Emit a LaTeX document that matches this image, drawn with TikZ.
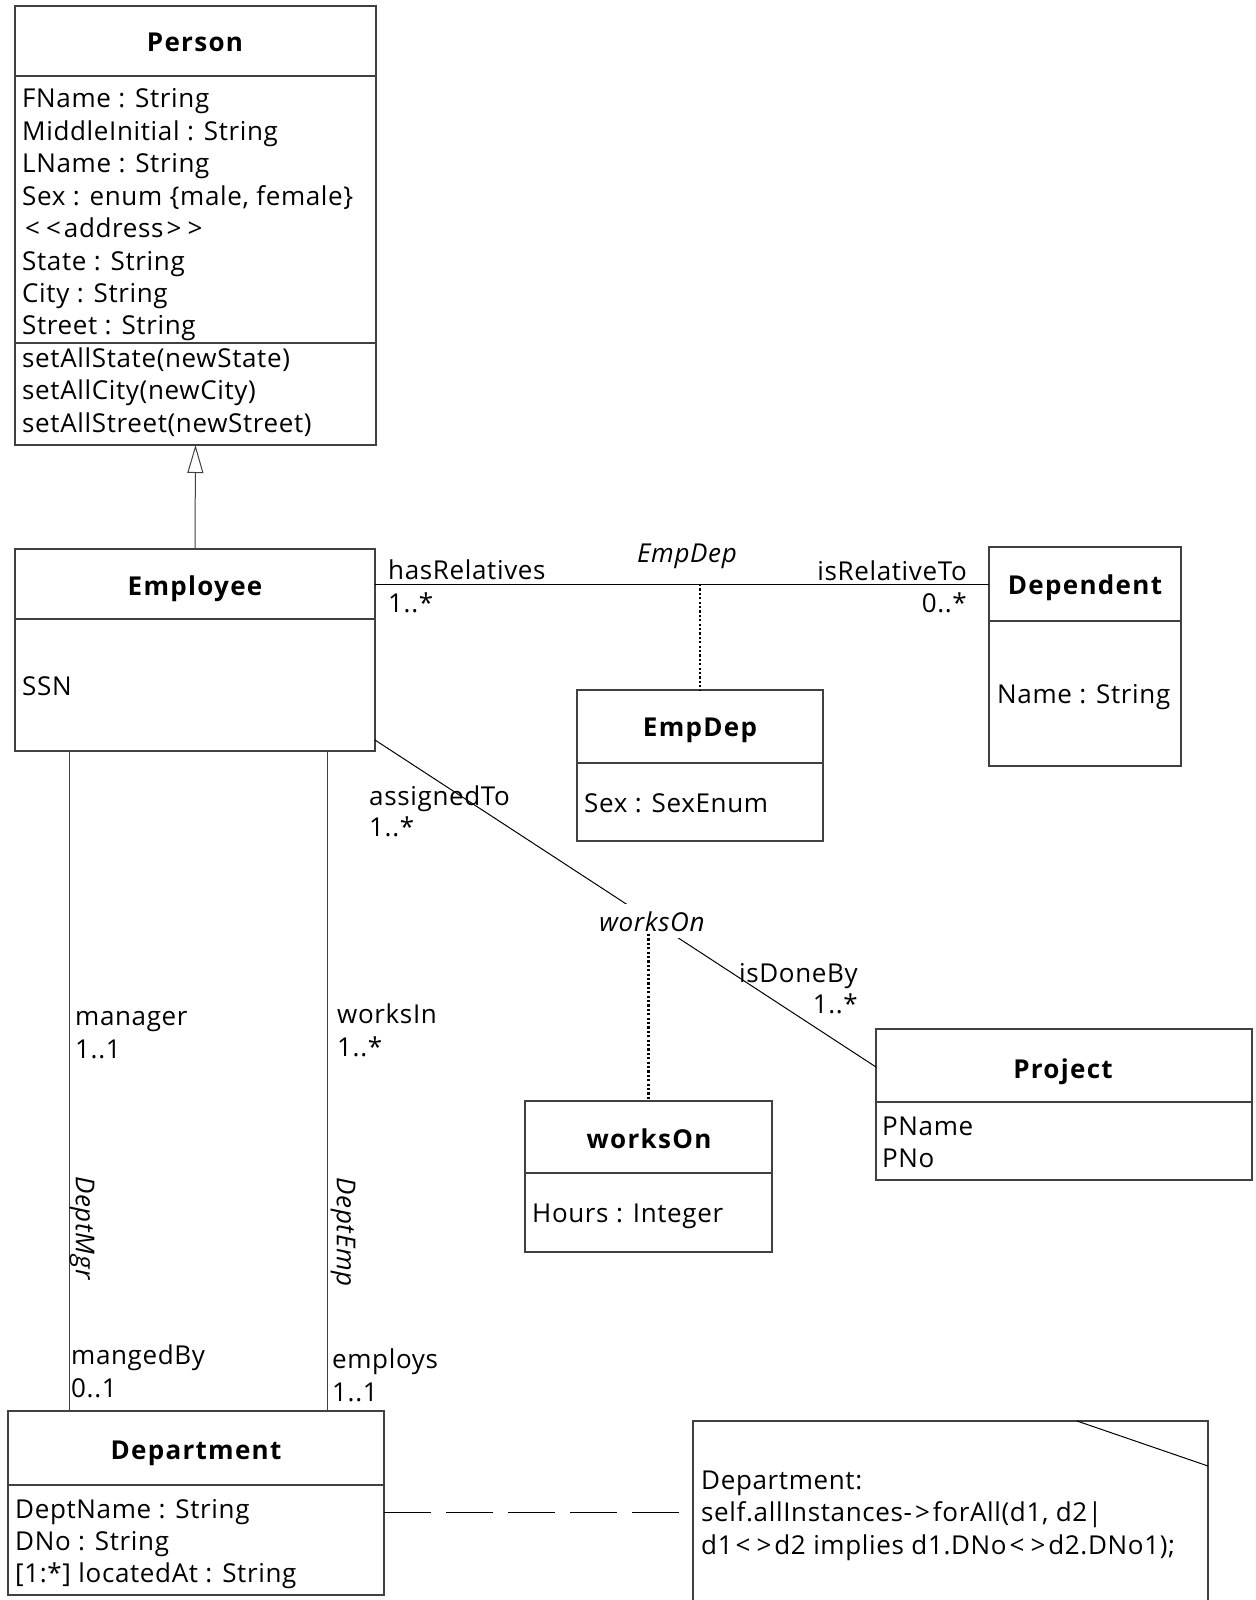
\documentclass[tikz,border=0pt]{standalone}
\usepackage{fontspec}
\setmainfont[LetterSpace=2.5]{Open Sans}
\newfontfamily\titlefont[LetterSpace=5]{Open Sans}
\usetikzlibrary{arrows.meta}
\definecolor{linec}{gray}{0.25}
\newcommand\mylt{\kern3pt<\kern3pt}
\newcommand\mygt{\kern3pt>\kern3pt}
\begin{document}
\begin{tikzpicture}[x=1pt,y=-1pt,
  box/.style={draw=linec, line width=1.2pt, anchor=north west, inner sep=0pt, outer sep=0pt},
  div/.style={draw=linec, line width=1.2pt},
  ttl/.style={font=\fontsize{26}{32}\selectfont\titlefont\bfseries, anchor=base, inner sep=0pt},
  txt/.style={font=\fontsize{26}{32}\selectfont, anchor=base west, inner sep=0pt},
  txtr/.style={font=\fontsize{26}{32}\selectfont, anchor=base east, inner sep=0pt},
  ital/.style={font=\fontsize{26}{32}\selectfont\itshape, inner sep=0pt},
  assoc/.style={draw=black, line width=1pt},
  dots/.style={draw=black, line width=2.4pt, dash pattern=on 2.2pt off 2.2pt},
]
\useasboundingbox (0,0) rectangle (1255,1600);
\clip (0,0) rectangle (1255,1600);

% ---------- Person ----------
\node[box, minimum width=361pt, minimum height=439pt] (person) at (15,6) {};
\draw[div] (person.west |- 0,76) -- (person.east |- 0,76);
\draw[div] (person.west |- 0,343) -- (person.east |- 0,343);
\node[ttl] (persont) at (195,52) {Person};
\foreach \t [count=\i] in {FName : String, MiddleInitial : String, LName : String,
  {Sex : enum \{male, female\}}, {\mylt\mylt address\mygt\mygt}, State : String, City : String,
  Street : String, setAllState(newState), setAllCity(newCity), setAllStreet(newStreet)}
  \node[txt] (pa\i) at (22, 75.6+32.4*\i) {\t};

% ---------- Employee ----------
\node[box, minimum width=360pt, minimum height=202pt] (employee) at (15,549) {};
\draw[div] (employee.west |- 0,619) -- (employee.east |- 0,619);
\node[ttl] (employeet) at (195,595) {Employee};
\node[txt] (ssn) at (22,695) {SSN};

% ---------- Dependent ----------
\node[box, minimum width=192pt, minimum height=219pt] (dependent) at (989,547) {};
\draw[div] (dependent.west |- 0,621) -- (dependent.east |- 0,621);
\node[ttl] (dependentt) at (1085,594) {Dependent};
\node[txt] (dname) at (997,703) {Name : String};

% ---------- EmpDep ----------
\node[box, minimum width=246pt, minimum height=151pt] (empdep) at (577,690) {};
\draw[div] (empdep.west |- 0,763) -- (empdep.east |- 0,763);
\node[ttl] (empdept) at (700,736) {EmpDep};
\node[txt] (edsex) at (584,812) {Sex : SexEnum};

% ---------- worksOn ----------
\node[box, minimum width=247pt, minimum height=151pt] (wobox) at (525,1101) {};
\draw[div] (wobox.west |- 0,1173) -- (wobox.east |- 0,1173);
\node[ttl] (wot) at (649,1148) {worksOn};
\node[txt] (hours) at (532,1222) {Hours : Integer};

% ---------- Project ----------
\node[box, minimum width=376pt, minimum height=151pt] (project) at (876,1029) {};
\draw[div] (project.west |- 0,1102) -- (project.east |- 0,1102);
\node[ttl] (projectt) at (1063,1078) {Project};
\node[txt] (pname) at (882,1135) {PName};
\node[txt] (pno) at (882,1167) {PNo};

% ---------- Department ----------
\node[box, minimum width=376pt, minimum height=184pt] (department) at (8,1411) {};
\draw[div] (department.west |- 0,1485) -- (department.east |- 0,1485);
\node[ttl] (departmentt) at (196,1459) {Department};
\node[txt] (dn1) at (15,1518) {DeptName : String};
\node[txt] (dn2) at (15,1550) {DNo : String};
\node[txt] (dn3) at (15,1582) {[1:*] locatedAt : String};

% ---------- Note ----------
\node[box, minimum width=515pt, minimum height=230pt] (note) at (693,1421) {};
\draw[assoc] (1077,1421) -- (note.east |- 0,1466);
\node[txt] (n1) at (701,1489) {Department:};
\node[txt] (n2) at (701,1521) {self.allInstances-\mygt forAll(d1, d2|};
\node[txt] (n3) at (701,1554) {d1\mylt\mygt d2 implies d1.DNo\mylt\mygt d2.DNo1);};

% ---------- Generalization ----------
\draw[draw=linec, line width=1pt, -{Triangle[open, length=28pt, width=16pt, line width=1pt]}]
  (employee.north) -- (person.south);

% ---------- EmpDep association ----------
\coordinate (ed) at (700,584);
\draw[assoc] (employee.east |- ed) -- (dependent.west |- ed);
\draw[dots] (ed) -- (empdep.north);
\node[txt] (hasrel) at (388,579) {hasRelatives};
\node[txt] (hasrelm) at (388,612) {1..*};
\node[ital, anchor=base] (edname) at (687,562) {EmpDep};
\node[txtr] (isrel) at (967,580) {isRelativeTo};
\node[txtr] (isrelm) at (967,612) {0..*};

% ---------- worksOn association ----------
\draw[assoc] (employee.east |- 0,740) -- (project.west |- 0,1067);
\node[ital, anchor=base, fill=white, inner xsep=0pt, inner ysep=7pt] (woname) at (652,931) {worksOn};
\draw[dots] (wobox.north |- 0,934) -- (wobox.north);
\node[txt] (asg) at (369,805) {assignedTo};
\node[txt] (asgm) at (369,836) {1..*};
\node[txtr] (idb) at (858,982) {isDoneBy};
\node[txtr] (idbm) at (858,1013) {1..*};

% ---------- DeptMgr / DeptEmp ----------
\draw[draw=linec, line width=1pt] (employee.south -| 69,0) -- (department.north -| 69,0);
\draw[draw=linec, line width=1pt] (employee.south -| 327,0) -- (department.north -| 327,0);
\node[ital, rotate=-90] (dmgr) at (82,1228) {DeptMgr};
\node[ital, rotate=-90] (demp) at (343,1232) {DeptEmp};
\node[txt] (mgr) at (75,1025) {manager};
\node[txt] (mgrm) at (75,1058) {1..1};
\node[txt] (win) at (337,1023) {worksIn};
\node[txt] (winm) at (337,1056) {1..*};
\node[txt] (mby) at (71,1364) {mangedBy};
\node[txt] (mbym) at (71,1397) {0..1};
\node[txt] (emp) at (332,1368) {employs};
\node[txt] (empm) at (332,1401) {1..1};

% ---------- Constraint link ----------
\draw[assoc, dash pattern=on 47pt off 15pt] (department.east |- 0,1512) -- (note.west |- 0,1512);
\end{tikzpicture}
\end{document}
